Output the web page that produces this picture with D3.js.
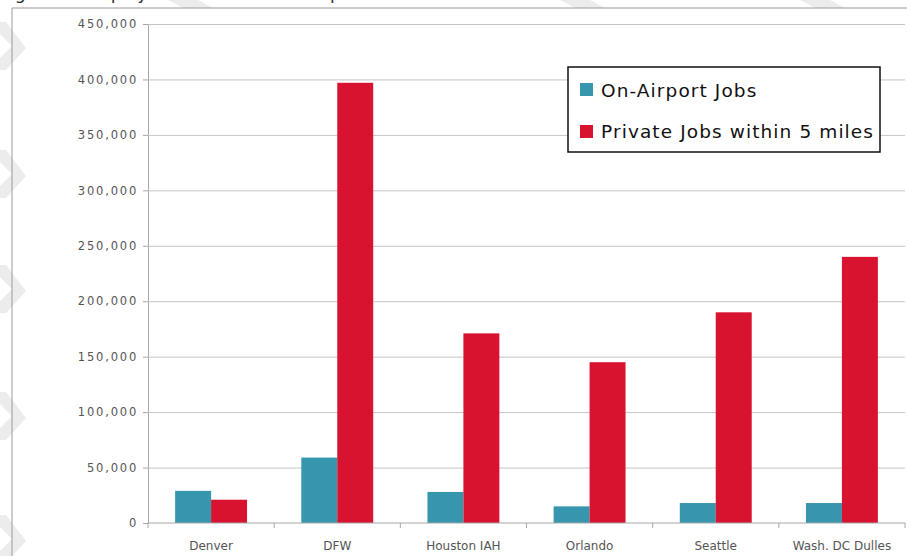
<!DOCTYPE html>
<html>
<head>
<meta charset="utf-8">
<script src="https://cdn.jsdelivr.net/npm/d3@7"></script>
<style>
  html, body { margin: 0; padding: 0; background: #fff; overflow: hidden; }
  svg { display: block; }
</style>
</head>
<body>
<svg id="chart" width="907" height="556"></svg>
<script>
// ---- data ----
const categories = ["Denver", "DFW", "Houston IAH", "Orlando", "Seattle", "Wash. DC Dulles"];
const seriesNames = ["On-Airport Jobs", "Private Jobs within 5 miles"];
const onAirportJobs = [29000, 59000, 28000, 15000, 18000, 18000];
const privateJobs = [21000, 397000, 171000, 145000, 190000, 240000];
const yTickValues = [0, 50000, 100000, 150000, 200000, 250000, 300000, 350000, 400000, 450000];
const titleText = "Figure 4: Employment at and near Airports";

const seriesColors = ["#3596ae", "#d8132f"];
const seriesValues = [onAirportJobs, privateJobs];

const svg = d3.select("#chart");
const W = 907, H = 556;
const plot = { left: 148, right: 905, top: 24, bottom: 523 };

// faint watermark stripes (background)
const wm = svg.append("g").attr("fill", "#ececec");
[22, 150, 265, 392, 515].forEach(y0 => {
  wm.append("polygon").attr("points", `0,${y0} 6,${y0} 26,${y0 + 26} 6,${y0 + 48} 0,${y0 + 48} 0,${y0 + 36} 12,${y0 + 24} 0,${y0 + 12}`);
});
[168, 560, 800].forEach(x0 => {
  wm.append("polygon").attr("points", `${x0},0 ${x0 + 30},0 ${x0 + 45},8 ${x0 + 15},8`);
});

// title (clipped at top in the reference, only descenders visible)
svg.append("text")
  .attr("x", 1).attr("y", -1)
  .attr("font-family", "DejaVu Sans, sans-serif")
  .attr("font-size", 17.5)
  .attr("fill", "#333")
  .text(titleText);

// chart frame
svg.append("path")
  .attr("d", `M12,${H} L12,8 L${W},8`)
  .attr("fill", "none").attr("stroke", "#9a9a9a").attr("stroke-width", 1);

// scales
const y = d3.scaleLinear().domain([0, 450000]).range([plot.bottom, plot.top]);
const x0 = d3.scaleBand().domain(categories).range([plot.left, plot.right])
  .paddingInner(0.43).paddingOuter(0.215);
const x1 = d3.scaleBand().domain(seriesNames).range([0, x0.bandwidth()]);

// gridlines + y axis
const yAxis = d3.axisLeft(y).tickValues(yTickValues).tickSize(5).tickPadding(5)
  .tickFormat(d3.format(","));
const gy = svg.append("g").attr("transform", `translate(${plot.left},0)`).call(yAxis);
gy.select(".domain").attr("stroke", "#a6a6a6");
gy.selectAll(".tick line").attr("stroke", "#a6a6a6");
gy.selectAll(".tick text")
  .attr("font-family", "DejaVu Sans, sans-serif")
  .attr("font-size", 11.5)
  .attr("letter-spacing", 1.8)
  .attr("fill", "#555");
gy.selectAll(".tick").filter(d => d > 0).append("line")
  .attr("x1", 0).attr("x2", plot.right - plot.left)
  .attr("stroke", "#c4c4c4").attr("stroke-width", 1);

// bars
const groups = svg.append("g").selectAll("g")
  .data(categories)
  .join("g")
  .attr("transform", d => `translate(${x0(d)},0)`);
groups.selectAll("rect")
  .data((d, i) => seriesNames.map((s, k) => ({ s, k, v: seriesValues[k][i] })))
  .join("rect")
  .attr("x", d => x1(d.s))
  .attr("y", d => y(d.v))
  .attr("width", x1.bandwidth())
  .attr("height", d => y(0) - y(d.v))
  .attr("fill", d => seriesColors[d.k]);

// x axis
const step = x0.step();
const xAxisG = svg.append("g");
xAxisG.append("line")
  .attr("x1", plot.left).attr("x2", plot.right)
  .attr("y1", plot.bottom).attr("y2", plot.bottom)
  .attr("stroke", "#a6a6a6");
xAxisG.selectAll("line.tk")
  .data(d3.range(categories.length + 1))
  .join("line").attr("class", "tk")
  .attr("x1", i => plot.left + i * step).attr("x2", i => plot.left + i * step)
  .attr("y1", plot.bottom).attr("y2", plot.bottom + 5)
  .attr("stroke", "#a6a6a6");
xAxisG.selectAll("text")
  .data(categories)
  .join("text")
  .attr("x", d => x0(d) + x0.bandwidth() / 2)
  .attr("y", 550)
  .attr("text-anchor", "middle")
  .attr("font-family", "DejaVu Sans, sans-serif")
  .attr("font-size", 12)
  .attr("fill", "#555")
  .text(d => d);

// legend
const lg = svg.append("g");
lg.append("rect")
  .attr("x", 568).attr("y", 67).attr("width", 312).attr("height", 85)
  .attr("fill", "#fff").attr("stroke", "#111").attr("stroke-width", 1.5);
seriesNames.forEach((s, k) => {
  lg.append("rect")
    .attr("x", 580).attr("y", 83 + k * 42).attr("width", 13).attr("height", 13)
    .attr("fill", seriesColors[k]);
  lg.append("text")
    .attr("x", 601).attr("y", 97 + k * 41)
    .attr("font-family", "DejaVu Sans, sans-serif")
    .attr("font-size", 18.5)
    .attr("letter-spacing", 1.1)
    .attr("fill", "#111")
    .text(s);
});
</script>
</body>
</html>
